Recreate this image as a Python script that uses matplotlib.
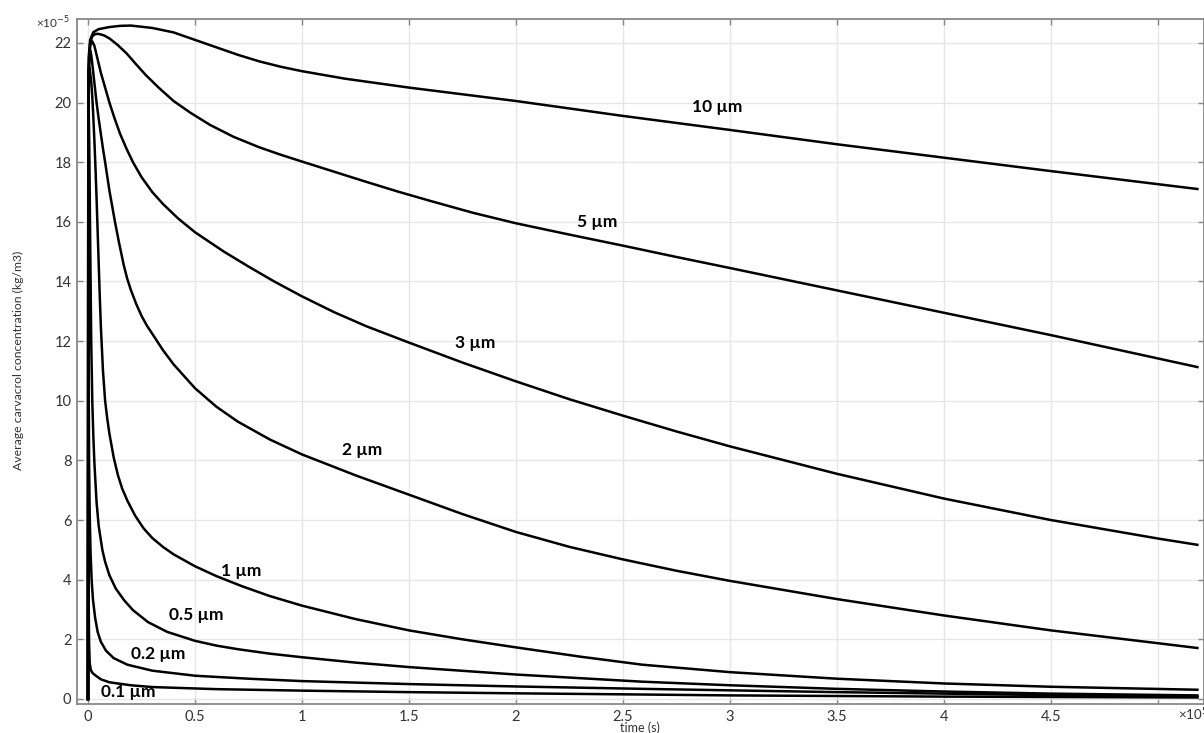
import matplotlib.pyplot as plt
import numpy as np

plt.rcParams['font.family'] = ['Lato', 'DejaVu Sans']

# time in units of 1e5 s, concentration in units of 1e-5 kg/m3
t_10 = [0, 0.003, 0.01, 0.025, 0.05, 0.1, 0.15, 0.2, 0.3, 0.4, 0.5, 0.6, 0.7, 0.8, 0.9, 1.0,
        1.2, 1.5, 2.0, 2.5, 3.0, 3.5, 4.0, 4.5, 5.184]
c_10 = [0, 21.5, 22.1, 22.36, 22.46, 22.53, 22.57, 22.58, 22.5, 22.35, 22.1, 21.85, 21.6, 21.38,
        21.2, 21.05, 20.8, 20.5, 20.05, 19.55, 19.08, 18.6, 18.15, 17.7, 17.1]

t_5 = [0, 0.003, 0.01, 0.02, 0.035, 0.05, 0.075, 0.1, 0.14, 0.18, 0.22, 0.27, 0.33, 0.4, 0.48,
       0.57, 0.68, 0.8, 0.9, 1.0, 1.15, 1.3, 1.45, 1.6, 1.8, 2.0, 2.25, 2.5, 2.75, 3.0, 3.5,
       4.0, 4.5, 5.184]
c_5 = [0, 21.0, 22.0, 22.22, 22.3, 22.3, 22.25, 22.15, 21.92, 21.65, 21.32, 20.92, 20.5, 20.05,
       19.65, 19.25, 18.85, 18.5, 18.25, 18.02, 17.68, 17.34, 17.01, 16.7, 16.3, 15.95, 15.57,
       15.2, 14.82, 14.45, 13.7, 12.95, 12.2, 11.13]

t_3 = [0, 0.003, 0.01, 0.02, 0.03, 0.045, 0.06, 0.08, 0.1, 0.125, 0.15, 0.18, 0.21, 0.25,
       0.3, 0.35, 0.42, 0.5, 0.635, 0.75, 0.87, 1.0, 1.15, 1.3, 1.5, 1.75, 2.0, 2.25, 2.5,
       2.75, 3.0, 3.5, 4.0, 4.5, 5.0, 5.184]
c_3 = [0, 21.0, 21.9, 22.05, 21.9, 21.45, 21.0, 20.5, 20.0, 19.45, 18.95, 18.45, 18.0, 17.5,
       17.0, 16.6, 16.12, 15.65, 15.0, 14.5, 14.0, 13.5, 12.97, 12.5, 11.95, 11.28, 10.65,
       10.05, 9.5, 8.97, 8.47, 7.55, 6.72, 6.0, 5.38, 5.17]

t_2 = [0, 0.002, 0.006, 0.01, 0.015, 0.02, 0.03, 0.04, 0.05, 0.06, 0.07, 0.08, 0.1, 0.126,
       0.145, 0.167, 0.183, 0.2, 0.225, 0.25, 0.275, 0.3, 0.35, 0.4, 0.5, 0.6, 0.7, 0.85,
       1.0, 1.25, 1.5, 1.75, 2.0, 2.25, 2.5, 2.75, 3.0, 3.5, 4.0, 4.5, 5.0, 5.184]
c_2 = [0, 20.5, 21.6, 21.75, 21.6, 21.3, 20.65, 20.0, 19.45, 18.95, 18.45, 18.0, 17.05, 16.0,
       15.3, 14.55, 14.1, 13.72, 13.25, 12.85, 12.52, 12.25, 11.7, 11.22, 10.42, 9.8, 9.3, 8.7,
       8.2, 7.5, 6.85, 6.2, 5.6, 5.1, 4.68, 4.3, 3.96, 3.35, 2.8, 2.3, 1.87, 1.71]

t_1 = [0, 0.002, 0.005, 0.01, 0.015, 0.02, 0.025, 0.03, 0.035, 0.04, 0.045, 0.05, 0.055,
       0.06, 0.07, 0.08, 0.09, 0.1, 0.12, 0.14, 0.16, 0.184, 0.22, 0.26, 0.3, 0.35, 0.4, 0.5,
       0.6, 0.72, 0.85, 1.0, 1.25, 1.5, 1.75, 2.0, 2.3, 2.59, 3.0, 3.5, 4.0, 4.5, 5.184]
c_1 = [0, 20.5, 21.2, 21.0, 20.7, 20.2, 19.5, 18.7, 17.8, 16.8, 15.7, 14.6, 13.5,
       12.5, 11.0, 10.0, 9.4, 8.9, 8.1, 7.5, 7.05, 6.65, 6.15, 5.72, 5.4, 5.1, 4.85, 4.45,
       4.12, 3.78, 3.45, 3.13, 2.68, 2.3, 2.0, 1.73, 1.42, 1.15, 0.9, 0.68, 0.52, 0.41, 0.31]

t_05 = [0, 0.001, 0.003, 0.006, 0.01, 0.015, 0.02, 0.025, 0.03, 0.04, 0.05, 0.067, 0.08, 0.1,
        0.13, 0.17, 0.21, 0.28, 0.37, 0.5, 0.6, 0.7, 0.85, 1.0, 1.25, 1.5, 2.0, 2.59, 3.0,
        3.5, 4.0, 4.5, 5.184]
c_05 = [0, 17.0, 20.0, 18.5, 15.5, 12.0, 10.0, 8.8, 7.9, 6.6, 5.8, 5.0, 4.6, 4.15,
        3.7, 3.3, 2.98, 2.58, 2.25, 1.95, 1.79, 1.67, 1.52, 1.4, 1.22, 1.07, 0.82, 0.58, 0.46,
        0.34, 0.25, 0.18, 0.12]

t_02 = [0, 0.0007, 0.0015, 0.003, 0.005, 0.008, 0.012, 0.017, 0.023, 0.033, 0.045, 0.06,
        0.084, 0.12, 0.184, 0.3, 0.5, 0.75, 1.0, 1.5, 2.0, 2.59, 3.0, 3.5, 4.0, 4.5, 5.184]
c_02 = [0, 15.0, 17.0, 11.0, 8.0, 6.2, 4.9, 4.0, 3.35, 2.74, 2.25, 1.92,
        1.62, 1.37, 1.15, 0.95, 0.78, 0.68, 0.6, 0.5, 0.42, 0.34, 0.29, 0.23, 0.18, 0.13, 0.08]

t_01 = [0, 0.0005, 0.001, 0.002, 0.003, 0.005, 0.008, 0.013, 0.02, 0.033, 0.06, 0.1, 0.2,
        0.3, 0.6, 1.0, 1.5, 2.0, 2.59, 3.0, 4.0, 5.184]
c_01 = [0, 12.0, 14.0, 6.0, 3.5, 1.9, 1.2, 0.98, 0.88, 0.8, 0.66, 0.56, 0.46,
        0.4, 0.33, 0.28, 0.23, 0.19, 0.15, 0.12, 0.08, 0.05]

curves = [(t_10, c_10), (t_5, c_5), (t_3, c_3), (t_2, c_2),
          (t_1, c_1), (t_05, c_05), (t_02, c_02), (t_01, c_01)]

labels = ['10 µm', '5 µm', '3 µm', '2 µm', '1 µm', '0.5 µm', '0.2 µm', '0.1 µm']
label_x = [2.94, 2.38, 1.81, 1.28, 0.715, 0.505, 0.327, 0.19]
label_y = [19.85, 16.0, 11.93, 8.35, 4.29, 2.82, 1.51, 0.23]

x_ticks = np.arange(0, 5.01, 0.5)
x_ticklabels = ['0', '0.5', '1', '1.5', '2', '2.5', '3', '3.5', '4', '4.5', '']
y_ticks = np.arange(0, 23, 2)

fig = plt.figure(figsize=(12.04, 7.33), dpi=100)
ax = fig.add_axes([77/1204, 29/733, 1127/1204, 685/733])

for t, c in curves:
    ax.plot(t, c, color='black', lw=1.8, solid_joinstyle='round', zorder=3)

for txt, lx, ly in zip(labels, label_x, label_y):
    ax.text(lx, ly, txt, ha='center', va='center', fontsize=12.5,
            fontweight='bold', color='black', zorder=4)

ax.set_xlim(-0.0514, 5.215)
ax.set_ylim(-0.168, 22.80)
ax.set_xticks(x_ticks)
ax.set_xticklabels(x_ticklabels)
ax.set_yticks(y_ticks)

ax.grid(True, color='#e6e6e6', lw=1.0, zorder=0)
ax.set_axisbelow(True)
ax.tick_params(direction='in', length=4, width=1, color='#888888',
               labelsize=10.5, labelcolor='#333333',
               top=True, right=True, pad=4)
for s in ax.spines.values():
    s.set_color('#888888')
    s.set_linewidth(1.3)

fig.text(18/1204, 1 - 360/733, 'Average carvacrol concentration (kg/m3)',
         rotation=90, ha='center', va='center', fontsize=8.8, color='#333333')
fig.text(640/1204, 1 - 728/733, 'time (s)', ha='center', va='center',
         fontsize=9, color='#333333')
fig.text(36/1204, 1 - 23/733, r'×10$^{-5}$', ha='left', va='center',
         fontsize=8.5, color='#333333')
fig.text(1178/1204, 1 - 715/733, r'×10$^{5}$', ha='left', va='center',
         fontsize=9.5, color='#333333')

fig.savefig('out.png', dpi=100)
